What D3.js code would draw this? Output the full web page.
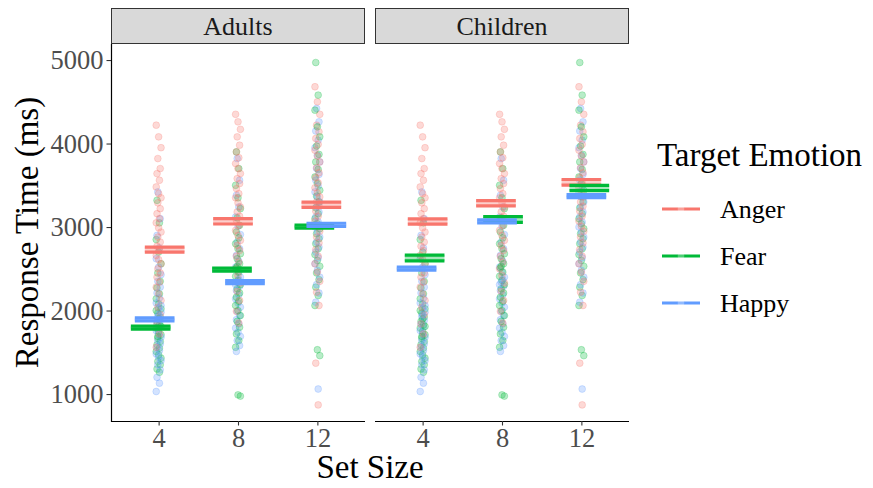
<!DOCTYPE html>
<html>
<head>
<meta charset="utf-8">
<script src="https://cdn.jsdelivr.net/npm/d3@7"></script>
<style>
  body { margin: 0; background: #fff; }
  text { font-family: "Liberation Serif", "Times New Roman", serif; }
</style>
</head>
<body>
<div id="chart"></div>
<script>
// categories
let groups = ["Adults", "Children"];
let setSizes = ["4", "8", "12"];
let emotions = ["Anger", "Fear", "Happy"];
let yTicks = [1000, 2000, 3000, 4000, 5000];

// raw response times (same points appear in both panels)
let anger4 = [4220, 4080, 3950, 3820, 3700, 3640, 3560, 3480, 3400, 3350, 3290, 3220, 3160, 3100, 3050, 2990, 2940, 2880, 2820, 2770, 2720, 2660, 2610, 2560, 2500, 2450, 2400, 2340, 2280, 2200, 2120, 2040, 1950, 1840, 1720, 1560];
let fear4 = [3320, 3050, 2850, 2700, 2560, 2450, 2350, 2270, 2200, 2140, 2080, 2020, 1970, 1920, 1870, 1830, 1790, 1750, 1710, 1670, 1630, 1590, 1550, 1510, 1470, 1430, 1390, 1350, 1300, 1260, 2000, 1900, 1810, 1690];
let happy4 = [3420, 3100, 2900, 2750, 2620, 2520, 2430, 2350, 2280, 2210, 2150, 2090, 2030, 1980, 1930, 1880, 1840, 1800, 1760, 1720, 1680, 1640, 1600, 1560, 1520, 1480, 1440, 1400, 1350, 1290, 1200, 1130, 1030, 1950, 2060];
let anger8 = [4350, 4260, 4170, 4080, 3980, 3900, 3830, 3760, 3700, 3640, 3580, 3520, 3460, 3400, 3350, 3290, 3240, 3180, 3130, 3080, 3020, 2960, 2900, 2840, 2780, 2720, 2650, 2580, 2500, 2420, 2330, 2230, 2120, 1990, 1850];
let fear8 = [3900, 3700, 3500, 3350, 3220, 3110, 3020, 2940, 2870, 2800, 2740, 2680, 2620, 2560, 2510, 2460, 2410, 2360, 2310, 2260, 2210, 2160, 2110, 2060, 2000, 1940, 1870, 1800, 1720, 1640, 1560, 990, 975, 2530];
let happy8 = [3820, 3560, 3380, 3240, 3120, 3010, 2910, 2820, 2740, 2660, 2590, 2520, 2460, 2400, 2340, 2290, 2240, 2190, 2140, 2090, 2040, 1990, 1940, 1890, 1840, 1790, 1740, 1690, 1640, 1580, 1510, 2370, 2310];
let anger12 = [4680, 4500, 4350, 4220, 4140, 4060, 3990, 3920, 3850, 3780, 3710, 3650, 3590, 3530, 3470, 3410, 3360, 3300, 3250, 3190, 3130, 3070, 3010, 2950, 2880, 2810, 2730, 2650, 2560, 2460, 2350, 2220, 2060, 1370, 870];
let fear12 = [4970, 4580, 4400, 4200, 4080, 3970, 3870, 3780, 3690, 3600, 3520, 3440, 3370, 3300, 3230, 3160, 3100, 3040, 2980, 2920, 2860, 2800, 2740, 2670, 2600, 2530, 2450, 2370, 2280, 2180, 2060, 1530, 1460];
let happy12 = [4420, 4260, 4150, 4040, 3950, 3860, 3780, 3700, 3630, 3560, 3490, 3420, 3360, 3300, 3240, 3180, 3120, 3060, 3000, 2940, 2880, 2820, 2760, 2700, 2630, 2560, 2480, 2400, 2310, 2210, 2100, 1060];

// group means per set size (4, 8, 12)
let adultsAnger = [2730, 3068, 3267];
let adultsFear = [1796, 2489, 3006];
let adultsHappy = [1895, 2341, 3027];
let childrenAnger = [3066, 3285, 3535];
let childrenFear = [2629, 3090, 3467];
let childrenHappy = [2503, 3068, 3369];

// standard errors
let adultsAngerSe = [30, 32, 32];
let adultsFearSe = [18, 18, 18];
let adultsHappySe = [18, 18, 18];
let childrenAngerSe = [32, 32, 34];
let childrenFearSe = [34, 34, 32];
let childrenHappySe = [18, 18, 18];

// jitter of the summary bars (in set-size steps)
let adultsJitter = [[0.076, -0.10, -0.05], [-0.063, -0.076, 0.088], [0.05, -0.038, 0.113]];
let childrenJitter = [[0.063, 0.025, -0.076], [-0.076, 0.013, -0.063], [0, 0.10, 0.063]];

let raw = {
    "4": [anger4, fear4, happy4],
    "8": [anger8, fear8, happy8],
    "12": [anger12, fear12, happy12]
};
let means = { Adults: [adultsAnger, adultsFear, adultsHappy], Children: [childrenAnger, childrenFear, childrenHappy] };
let ses = { Adults: [adultsAngerSe, adultsFearSe, adultsHappySe], Children: [childrenAngerSe, childrenFearSe, childrenHappySe] };
let jitters = { Adults: adultsJitter, Children: childrenJitter };

let colors = d3.scaleOrdinal().domain(emotions).range(["#F8766D", "#00BA38", "#619CFF"]);

let width = 873, height = 488;
let panelW = 254, panelTop = 44, panelBottom = 421;
let panelX = [111, 375];

let svg = d3.select("#chart")
    .append("svg")
    .attr("width", width)
    .attr("height", height);

let x = d3.scalePoint().domain(setSizes).range([0, panelW]).padding(0.6);
let y = d3.scaleLinear().domain([677, 5192]).range([panelBottom, panelTop]);

groups.forEach(function (g, gi) {
    let panel = svg.append("g").attr("transform", "translate(" + panelX[gi] + ",0)");

    // strip
    panel.append("rect")
        .attr("x", 0.5).attr("y", 8.5)
        .attr("width", panelW - 1).attr("height", panelTop - 9)
        .attr("fill", "#D9D9D9")
        .attr("stroke", "#333")
        .attr("stroke-width", 1);
    panel.append("text")
        .attr("x", panelW / 2).attr("y", 35)
        .attr("text-anchor", "middle")
        .attr("font-size", 26)
        .attr("fill", "#1A1A1A")
        .text(g);

    // raw points, interleaved so colours mix
    let pts = [];
    setSizes.forEach(function (s) {
        let n = d3.max(raw[s], function (a) { return a.length; });
        for (let i = 0; i < n; i++) {
            raw[s].forEach(function (arr, ei) {
                if (i < arr.length) pts.push({ size: s, emotion: emotions[ei], rt: arr[i], i: i });
            });
        }
    });
    panel.append("g").selectAll("circle")
        .data(pts)
        .enter()
        .append("circle")
        .attr("cx", function (d) { return x(d.size) + ((d.i * 3 + emotions.indexOf(d.emotion)) % 7 - 3) * 0.8; })
        .attr("cy", function (d) { return y(d.rt); })
        .attr("r", 3.4)
        .attr("fill", function (d) { return colors(d.emotion); })
        .attr("fill-opacity", 0.28)
        .attr("stroke", function (d) { return colors(d.emotion); })
        .attr("stroke-opacity", 0.3)
        .attr("stroke-width", 0.8);

    // mean +/- se bars
    let bars = [];
    setSizes.forEach(function (s, si) {
        emotions.forEach(function (e, ei) {
            bars.push({ size: s, emotion: e, m: means[g][ei][si], se: ses[g][ei][si], j: jitters[g][si][ei] });
        });
    });
    let step = x.step();
    let barW = step * 0.5;
    let bar = panel.append("g").selectAll("g")
        .data(bars)
        .enter()
        .append("g");
    bar.append("rect")
        .attr("x", function (d) { return x(d.size) + d.j * step - barW / 2; })
        .attr("y", function (d) { return y(d.m + d.se); })
        .attr("width", barW)
        .attr("height", function (d) { return y(d.m - d.se) - y(d.m + d.se); })
        .attr("fill", function (d) { return colors(d.emotion); })
        .attr("fill-opacity", 0.35);
    [1, -1].forEach(function (sign) {
        bar.append("line")
            .attr("x1", function (d) { return x(d.size) + d.j * step - barW / 2; })
            .attr("x2", function (d) { return x(d.size) + d.j * step + barW / 2; })
            .attr("y1", function (d) { return y(d.m + sign * d.se); })
            .attr("y2", function (d) { return y(d.m + sign * d.se); })
            .attr("stroke", function (d) { return colors(d.emotion); })
            .attr("stroke-width", 3.2);
    });

    // x axis
    let xAxis = panel.append("g")
        .attr("transform", "translate(0," + panelBottom + ")")
        .call(d3.axisBottom(x).tickSize(4.5).tickPadding(3));
    xAxis.select(".domain").attr("stroke", "#000").attr("stroke-width", 1.2).attr("d", "M0,0.5H" + panelW);
    xAxis.selectAll(".tick line").attr("stroke", "#333").attr("stroke-width", 1.1);
    xAxis.selectAll(".tick text")
        .attr("font-family", "Liberation Serif")
        .attr("font-size", 26.5)
        .attr("fill", "#4D4D4D");

    // y axis only on the first panel
    if (gi === 0) {
        let yAxis = panel.append("g")
            .call(d3.axisLeft(y).tickValues(yTicks).tickFormat(d3.format("d")).tickSize(4.5).tickPadding(3));
        yAxis.select(".domain").attr("stroke", "#000").attr("stroke-width", 1.2).attr("d", "M0.5," + panelTop + "V" + (panelBottom + 1));
        yAxis.selectAll(".tick line").attr("stroke", "#333").attr("stroke-width", 1.1);
        yAxis.selectAll(".tick text")
            .attr("font-family", "Liberation Serif")
            .attr("font-size", 26.5)
            .attr("fill", "#4D4D4D");
    }
});

// axis titles
svg.append("text")
    .attr("x", (panelX[0] + panelX[1] + panelW) / 2)
    .attr("y", 478)
    .attr("text-anchor", "middle")
    .attr("font-size", 33)
    .text("Set Size");
svg.append("text")
    .attr("transform", "translate(38," + ((panelTop + panelBottom) / 2) + ") rotate(-90)")
    .attr("text-anchor", "middle")
    .attr("font-size", 33)
    .text("Response Time (ms)");

// legend
let legend = svg.append("g");
legend.append("text")
    .attr("x", 657).attr("y", 166)
    .attr("font-size", 33)
    .text("Target Emotion");
let keys = legend.selectAll("g.key")
    .data(emotions)
    .enter()
    .append("g")
    .attr("class", "key")
    .attr("transform", function (d, i) { return "translate(0," + (209 + i * 47) + ")"; });
keys.append("line")
    .attr("x1", 662).attr("x2", 700)
    .attr("stroke", function (d) { return colors(d); })
    .attr("stroke-width", 3.2);
keys.append("circle")
    .attr("cx", 681).attr("r", 3.3)
    .attr("fill", "#fff")
    .attr("fill-opacity", 0.3);
keys.append("text")
    .attr("x", 720).attr("y", 9)
    .attr("font-size", 26)
    .text(function (d) { return d; });
</script>
</body>
</html>
